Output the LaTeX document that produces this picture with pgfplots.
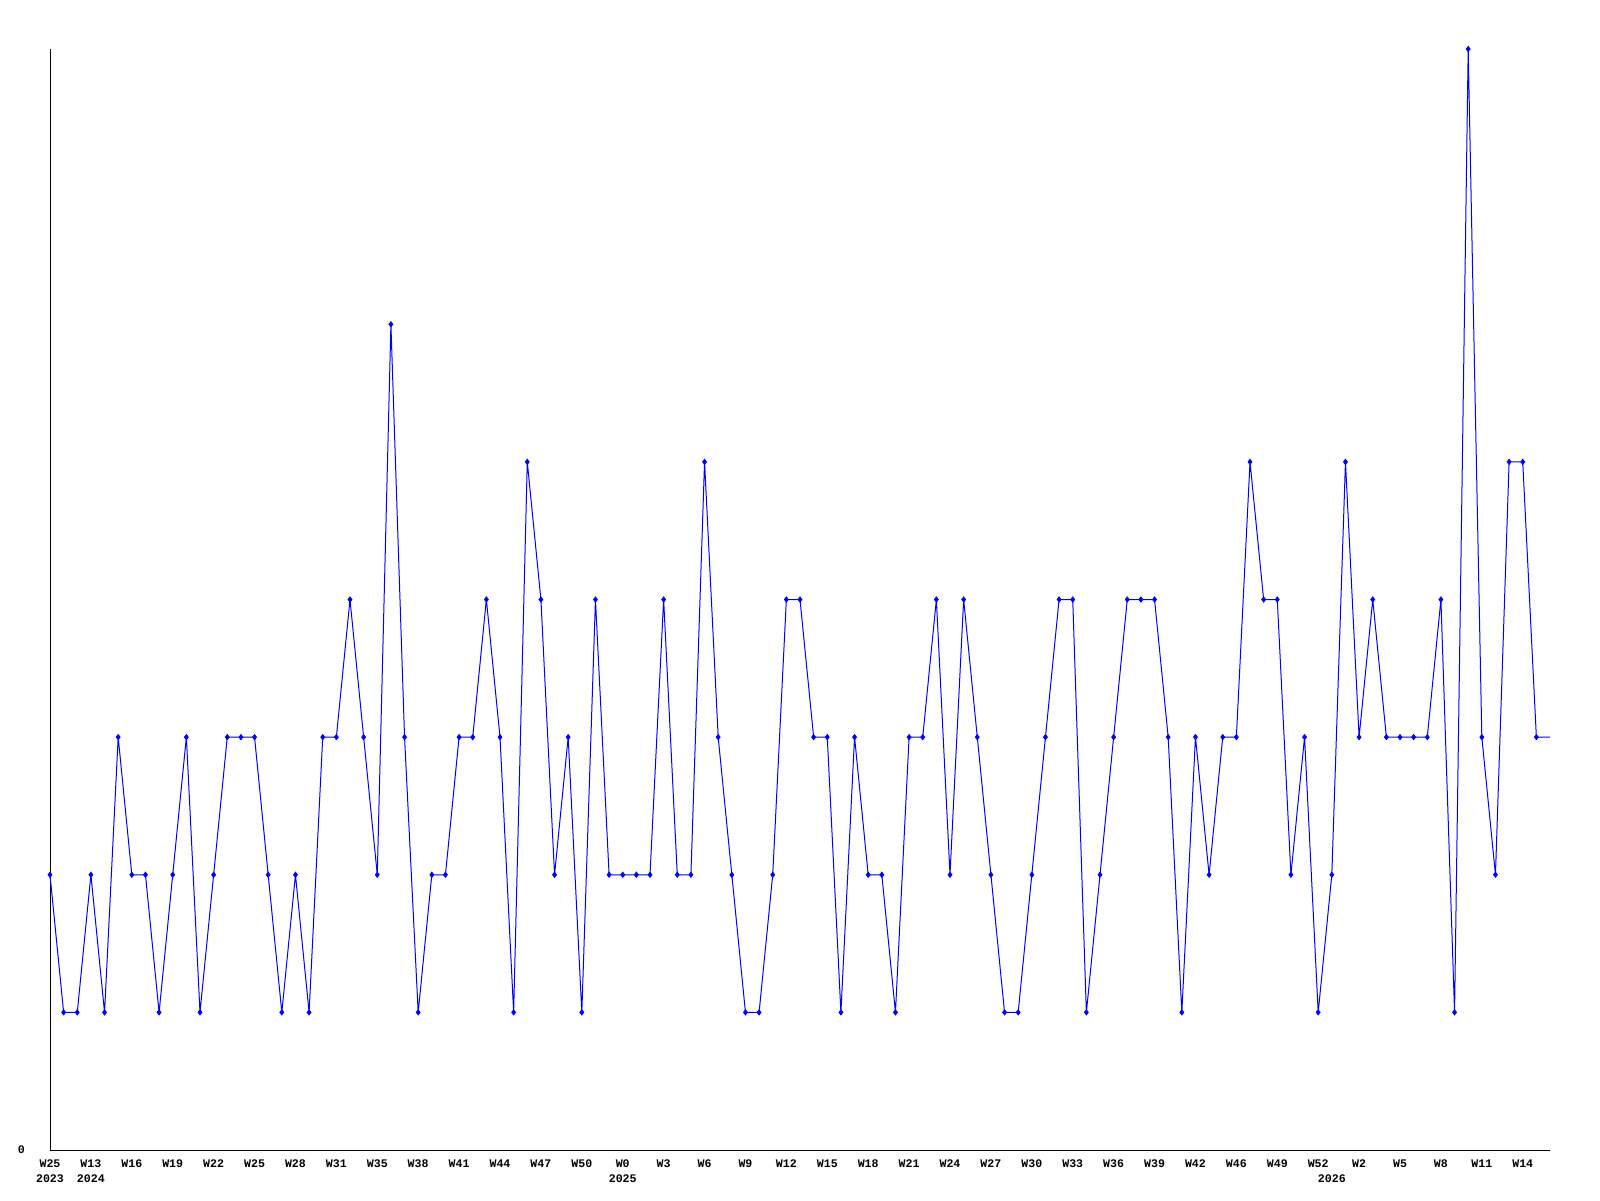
\documentclass[border=0pt]{standalone}
\usepackage{fontspec}
\setmainfont{Liberation Mono}
\usepackage{pgfplots}
\usepackage{pgfplotstable}
\pgfplotsset{compat=1.18}
\pgfplotstableread{
x y
0 2
1 1
2 1
3 2
4 1
5 3
6 2
7 2
8 1
9 2
10 3
11 1
12 2
13 3
14 3
15 3
16 2
17 1
18 2
19 1
20 3
21 3
22 4
23 3
24 2
25 6
26 3
27 1
28 2
29 2
30 3
31 3
32 4
33 3
34 1
35 5
36 4
37 2
38 3
39 1
40 4
41 2
42 2
43 2
44 2
45 4
46 2
47 2
48 5
49 3
50 2
51 1
52 1
53 2
54 4
55 4
56 3
57 3
58 1
59 3
60 2
61 2
62 1
63 3
64 3
65 4
66 2
67 4
68 3
69 2
70 1
71 1
72 2
73 3
74 4
75 4
76 1
77 2
78 3
79 4
80 4
81 4
82 3
83 1
84 3
85 2
86 3
87 3
88 5
89 4
90 4
91 2
92 3
93 1
94 2
95 5
96 3
97 4
98 3
99 3
100 3
101 3
102 4
103 1
104 8
105 3
106 2
107 5
108 5
109 3
110 3
}\datatable
\begin{document}
\begin{tikzpicture}
\path[use as bounding box] (-25pt,-25pt) rectangle (775pt,575pt);
\begin{axis}[
  at={(0,0)}, anchor=south west,
  scale only axis,
  width=750pt, height=550.5pt,
  xmin=0, xmax=110, ymin=0, ymax=8,
  axis lines=left,
  axis line style={-, black, line width=0.5pt},
  clip=false,
  major tick length=0pt,
  ytick={0}, yticklabels={0},
  yticklabel style={anchor=east, xshift=-9pt},
  xtick={0,3,...,108},
  xticklabels={{W25\\2023},{W13\\2024},W16,W19,W22,W25,W28,W31,W35,W38,W41,W44,W47,W50,{W0\\2025},W3,W6,W9,W12,W15,W18,W21,W24,W27,W30,W33,W36,W39,W42,W46,W49,W52,W2,W5,W8,W11,W14},
  xticklabel style={align=center, anchor=north, yshift=-1.5pt},
  extra x ticks={94},
  extra x tick labels={{\phantom{W52}\\2026}},
  extra x tick style={major tick length=0pt, grid=none},
  tick label style={font=\fontsize{5.8}{7.5}\selectfont\bfseries},
]
\addplot[blue, line width=0.5pt, mark=none] table[x=x, y=y] {\datatable};
\addplot[blue, only marks, mark=diamond*, mark size=1.3pt, restrict x to domain=0:109] table[x=x, y=y] {\datatable};
\end{axis}
\end{tikzpicture}
\end{document}
